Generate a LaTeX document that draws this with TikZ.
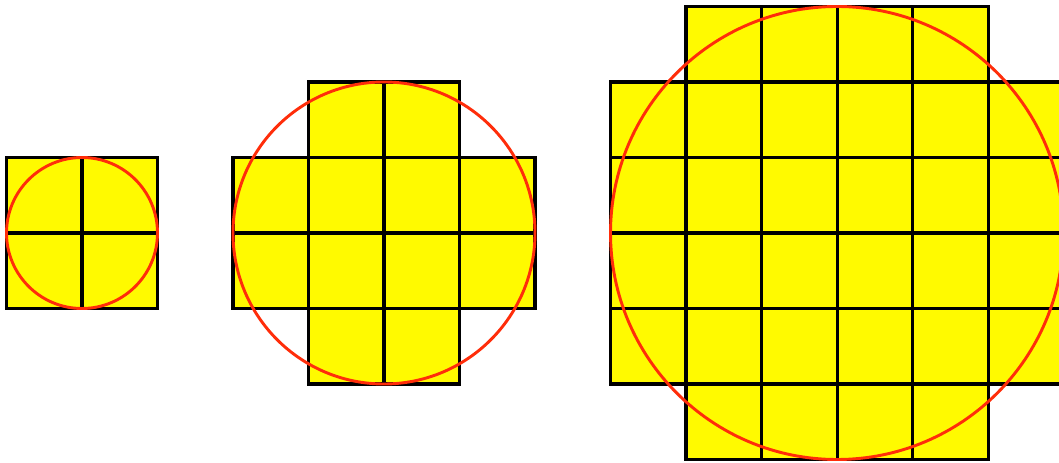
\documentclass[tikz,border=0pt]{standalone}
\begin{document}
\begin{tikzpicture}[
  cellfill/.style={fill={rgb,255:red,255;green,250;blue,0}},
  celledge/.style={draw=black, line width=1.15pt},
  ring/.style={draw={rgb,255:red,255;green,45;blue,10}, line width=1.1pt}
]
\clip (0,0) rectangle (14.026,6.132);
\useasboundingbox (0,0) rectangle (14.026,6.132);
\foreach \pass in {cellfill,celledge}{
  % figure 1: 2x2
  \foreach \i in {0,1}{\foreach \j in {0,1}{
    \path[\pass] (0.086+\i,2.046+\j) rectangle ++(1,1);
  }}
  % figure 2: 4x4 without corners
  \foreach \i in {0,...,3}{\foreach \j in {0,...,3}{
    \pgfmathtruncatemacro{\ei}{(\i==0 || \i==3) ? 1 : 0}
    \pgfmathtruncatemacro{\ej}{(\j==0 || \j==3) ? 1 : 0}
    \pgfmathtruncatemacro{\skipit}{\ei*\ej}
    \ifnum\skipit=0
      \path[\pass] (3.086+\i,1.046+\j) rectangle ++(1,1);
    \fi
  }}
  % figure 3: 6x6 without corners
  \foreach \i in {0,...,5}{\foreach \j in {0,...,5}{
    \pgfmathtruncatemacro{\ei}{(\i==0 || \i==5) ? 1 : 0}
    \pgfmathtruncatemacro{\ej}{(\j==0 || \j==5) ? 1 : 0}
    \pgfmathtruncatemacro{\skipit}{\ei*\ej}
    \ifnum\skipit=0
      \path[\pass] (8.086+\i,0.046+\j) rectangle ++(1,1);
    \fi
  }}
}
\draw[ring] (1.086,3.046) circle (1);
\draw[ring] (5.086,3.046) circle (2);
\draw[ring] (11.086,3.046) circle (3);
\end{tikzpicture}
\end{document}
